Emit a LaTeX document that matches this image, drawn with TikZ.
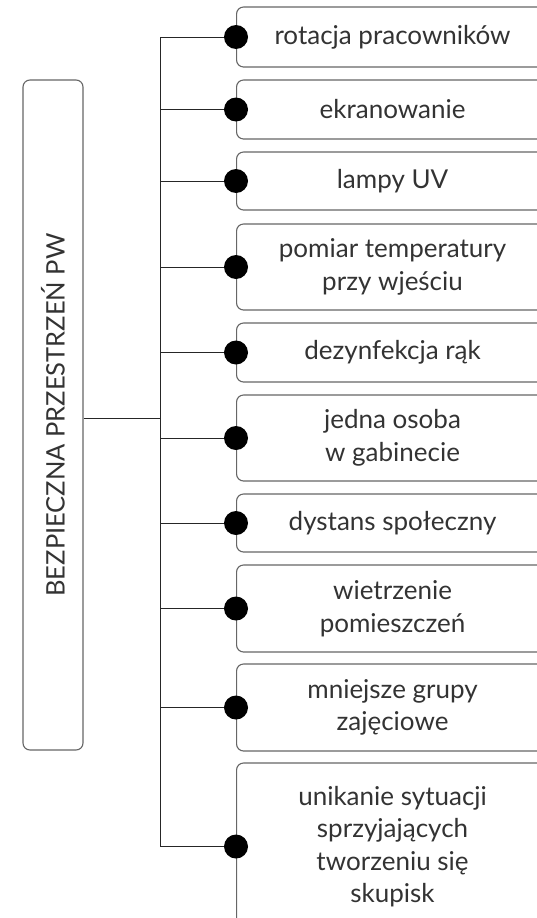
\documentclass[tikz,border=0pt]{standalone}
\usepackage{fontspec}
\setmainfont{Lato}
\begin{document}
\begin{tikzpicture}[x=1pt,y=-1pt,
	every node/.style={font=\fontsize{26}{32.5}\selectfont,text=black!80},
	item/.style={draw=black!60,line width=1.1pt,rounded corners=7pt,anchor=west,
		minimum width=312,align=center,inner sep=2,xshift=0},
	root/.style={draw=black!60,line width=1.1pt,rounded corners=7pt,rotate=90,
		minimum width=670,minimum height=60,font=\fontsize{25.5}{30}\selectfont},
	branch/.style={line width=0.9pt,draw=black!85},
	dot/.style={circle,fill=black,inner sep=0,minimum size=24}]
\useasboundingbox (0,0) rectangle (537,918);
\node[root] (pw) at (53,415) {BEZPIECZNA PRZESTRZEŃ PW};
\coordinate (bustop) at (160,37);
\coordinate (busbot) at (160,846.5);
\coordinate (busmid) at (160,418);
\draw[branch] (bustop) -- (busbot);
\draw[branch] (pw.south |- busmid) -- (busmid);
\foreach \n/\y/\h/\t in {
	rot/37/60/{rotacja pracowników},
	ekr/109.5/59/{ekranowanie},
	uv/181/58/{lampy UV},
	temp/267/86/{pomiar temperatury\\przy wjeściu},
	dez/352.5/59/{dezynfekcja rąk},
	os/438/86/{jedna osoba\\w gabinecie},
	dys/523/58/{dystans społeczny},
	wie/608.5/87/{wietrzenie\\pomieszczeń},
	gr/707.5/87/{mniejsze grupy\\zajęciowe},
	sk/846.5/167/{unikanie sytuacji\\sprzyjających\\tworzeniu się\\skupisk}}
{
	\node[item,minimum height=\h] (\n) at (236,\y) {\t};
	\draw[branch] (160,\y) -- (\n.west);
	\node[dot] at (\n.west) {};
}
\end{tikzpicture}
\end{document}
